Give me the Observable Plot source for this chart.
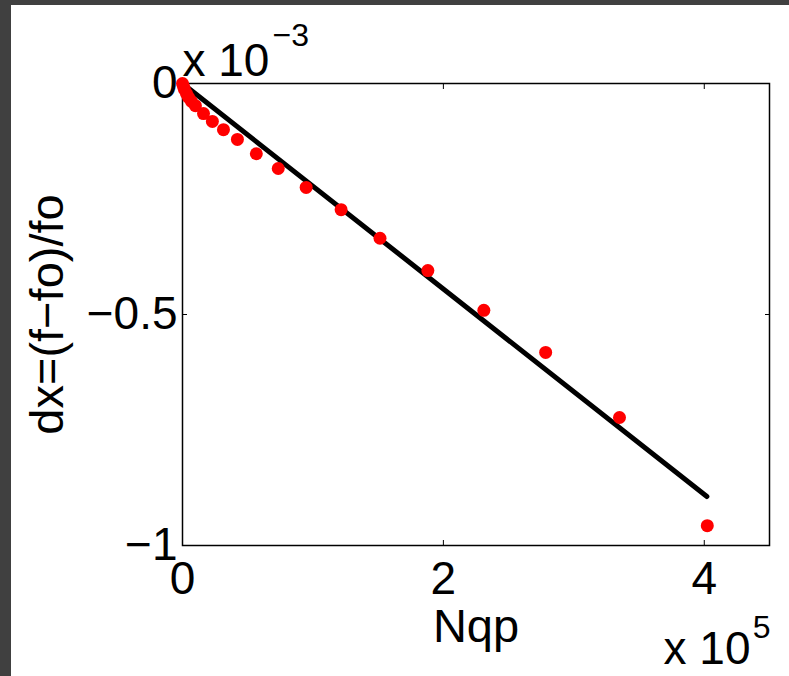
<!DOCTYPE html>
<html><head><meta charset="utf-8">
<script src="https://cdn.jsdelivr.net/npm/d3@7"></script>
<script src="https://cdn.jsdelivr.net/npm/@observablehq/plot@0.6"></script>
<style>
html,body{margin:0;padding:0;background:#404040;width:789px;height:676px;overflow:hidden}
#chart{position:absolute;left:11px;top:5px;width:778px;height:671px;background:#fff}
</style></head><body><div id="chart"></div>
<script>
// Nqp in units of 10^5, dx in units of 10^-3
const nqp = [0, 0.008, 0.015, 0.031, 0.046, 0.069, 0.099, 0.161, 0.229, 0.314, 0.421, 0.566, 0.734, 0.948, 1.216, 1.514, 1.881, 2.310, 2.784, 3.350, 4.023];
const dxv = [0, -0.0065, -0.013, -0.022, -0.030, -0.039, -0.048, -0.065, -0.082, -0.100, -0.121, -0.152, -0.184, -0.225, -0.273, -0.335, -0.405, -0.491, -0.582, -0.723, -0.957];
const fitNqp = [0, 4.02];
const fitDx = [0, -0.894];
const xTicks = [0, 2, 4];
const xTickLabels = ["0", "2", "4"];
const yTicks = [0, -0.5, -1];
const yTickLabels = ["0", "−0.5", "−1"];
const xLabel = "Nqp";
const yLabel = "dx=(f−fo)/fo";
const xMult = "x 10", xExp = "5";
const yMult = "x 10", yExp = "−3";

const points = nqp.map((x, i) => ({x, y: dxv[i]}));
const fit = fitNqp.map((x, i) => ({x, y: fitDx[i]}));
const blank = () => "";

const chart = Plot.plot({
  width: 778, height: 671,
  marginLeft: 171, marginRight: 20, marginTop: 78, marginBottom: 131,
  style: {fontFamily: "'Liberation Sans', Arial, sans-serif", color: "black", background: "white", overflow: "visible"},
  x: {domain: [0, 4.5]},
  y: {domain: [-1, 0]},
  marks: [
    // inward ticks
    Plot.axisX(xTicks, {anchor: "bottom", tickSize: 5, dy: -5, tickFormat: blank, label: null}),
    Plot.axisX(xTicks, {anchor: "top", tickSize: 5, dy: 5, tickFormat: blank, label: null}),
    Plot.axisY(yTicks, {anchor: "left", tickSize: 5, dx: 5, tickFormat: blank, label: null}),
    Plot.axisY(yTicks, {anchor: "right", tickSize: 5, dx: -5, tickFormat: blank, label: null}),
    // tick labels
    Plot.axisX(xTicks, {anchor: "bottom", tickSize: 0, tickPadding: 16, fontSize: 46, label: null,
      tickFormat: d => xTickLabels[xTicks.indexOf(d)]}),
    Plot.axisY(yTicks, {anchor: "left", tickSize: 0, tickPadding: 5, fontSize: 46, label: null,
      tickFormat: d => yTickLabels[yTicks.indexOf(d)]}),
    Plot.frame({stroke: "black", strokeWidth: 1.5}),
    Plot.line(fit, {x: "x", y: "y", stroke: "black", strokeWidth: 5}),
    Plot.dot(points, {x: "x", y: "y", r: 6.5, fill: "#ff0000"}),
    // axis labels
    Plot.text([xLabel], {frameAnchor: "bottom", lineAnchor: "bottom", textAnchor: "middle", dy: 96, fontSize: 47}),
    Plot.text([yLabel], {frameAnchor: "left", lineAnchor: "bottom", textAnchor: "middle", rotate: -90, dx: -120, fontSize: 47}),
    // multipliers
    Plot.text([xMult], {frameAnchor: "bottom-right", lineAnchor: "bottom", textAnchor: "end", dx: -19, dy: 118, fontSize: 46}),
    Plot.text([xExp], {frameAnchor: "bottom-right", lineAnchor: "bottom", textAnchor: "end", dx: 1, dy: 92, fontSize: 32}),
    Plot.text([yMult], {frameAnchor: "top-left", lineAnchor: "bottom", textAnchor: "start", dx: 0, dy: -8, fontSize: 46}),
    Plot.text([yExp], {frameAnchor: "top-left", lineAnchor: "bottom", textAnchor: "start", dx: 90, dy: -38, fontSize: 32})
  ]
});
document.getElementById("chart").appendChild(chart);
</script></body></html>
